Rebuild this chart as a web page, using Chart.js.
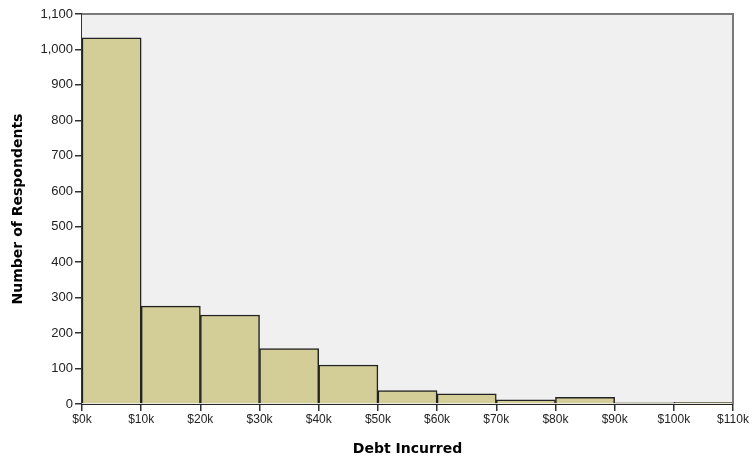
<!DOCTYPE html>
<html>
<head>
<meta charset="utf-8">
<script src="https://cdn.jsdelivr.net/npm/chart.js@4.4.1/dist/chart.umd.min.js"></script>
<style>
  html, body { margin: 0; padding: 0; background: #ffffff; }
  #wrap { width: 752px; height: 458px; }
</style>
</head>
<body>
<div id="wrap"><canvas id="debtChart" width="752" height="458"></canvas></div>
<script>
// Histogram bins ($k) and counts
const binStarts = [0, 10, 20, 30, 40, 50, 60, 70, 80, 90, 100];
const binWidth = 10;
const respondents = [1033, 276, 251, 156, 110, 38, 29, 12, 19, 3, 5];
const xTicks = [0, 10, 20, 30, 40, 50, 60, 70, 80, 90, 100, 110];
const yTicks = [0, 100, 200, 300, 400, 500, 600, 700, 800, 900, 1000, 1100];

const points = binStarts.map((s, i) => ({ x: s + binWidth / 2, y: respondents[i] }));

// grey plot background plus frame on top/right
const plotFrame = {
    id: 'plotFrame',
    beforeDatasetsDraw(chart) {
        const { ctx, chartArea: a } = chart;
        ctx.save();
        ctx.fillStyle = '#f0f0f0';
        ctx.fillRect(a.left, a.top, a.right - a.left, a.bottom - a.top);
        ctx.restore();
    },
    afterDatasetsDraw(chart) {
        const { ctx, chartArea: a } = chart;
        ctx.save();
        ctx.strokeStyle = '#7a7a7a';
        ctx.lineWidth = 2;
        ctx.beginPath();
        ctx.moveTo(a.left, a.top);
        ctx.lineTo(a.right, a.top);
        ctx.lineTo(a.right, a.bottom);
        ctx.stroke();
        ctx.restore();
    }
};

const xTickFont = { family: 'Liberation Sans, Arial, sans-serif', size: 12 };
const yTickFont = { family: 'Liberation Sans, Arial, sans-serif', size: 13 };
const titleFont = { family: 'DejaVu Sans, sans-serif', size: 14, weight: 'bold' };

new Chart(document.getElementById('debtChart').getContext('2d'), {
    type: 'bar',
    data: {
        datasets: [{
            label: 'Number of Respondents',
            data: points,
            backgroundColor: '#d3ce98',
            borderColor: '#222222',
            borderWidth: 1.5,
            barPercentage: 1.0,
            categoryPercentage: 1.0
        }]
    },
    options: {
        responsive: false,
        animation: false,
        layout: { padding: { top: 14, right: 19, left: 0, bottom: 0 } },
        plugins: {
            legend: { display: false },
            tooltip: { enabled: false }
        },
        scales: {
            x: {
                type: 'linear',
                offset: false,
                min: 0,
                max: 110,
                afterBuildTicks: s => { s.ticks = xTicks.map(v => ({ value: v })); },
                afterFit: s => { s.height = 54; },
                ticks: {
                    color: '#222',
                    font: xTickFont,
                    padding: 1,
                    maxRotation: 0,
                    callback: v => '$' + v + 'k'
                },
                grid: {
                    offset: false,
                    drawOnChartArea: false,
                    tickLength: 7,
                    color: '#333',
                    lineWidth: 1.5
                },
                border: { color: '#222', width: 2 },
                title: {
                    display: true,
                    text: 'Debt Incurred',
                    font: titleFont,
                    color: '#000',
                    padding: { top: 12, bottom: 0 }
                }
            },
            y: {
                min: 0,
                max: 1100,
                afterBuildTicks: s => { s.ticks = yTicks.map(v => ({ value: v })); },
                afterFit: s => { s.width = 82; },
                ticks: {
                    color: '#222',
                    font: yTickFont,
                    padding: 2,
                    callback: v => v.toLocaleString('en-US')
                },
                grid: {
                    drawOnChartArea: false,
                    tickLength: 7,
                    color: '#333',
                    lineWidth: 1.5
                },
                border: { color: '#333', width: 2 },
                title: {
                    display: true,
                    text: 'Number of Respondents',
                    font: titleFont,
                    color: '#000',
                    padding: { top: 10, bottom: 4 }
                }
            }
        }
    },
    plugins: [plotFrame]
});
</script>
</body>
</html>
